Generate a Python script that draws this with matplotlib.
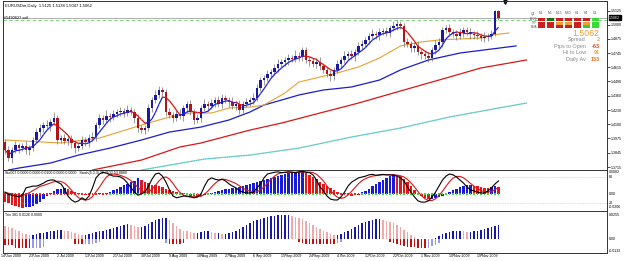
import numpy as np
import matplotlib
matplotlib.use('Agg')
import matplotlib.pyplot as plt
from matplotlib.collections import LineCollection
from matplotlib.patches import Rectangle
import pandas as pd

plt.rcParams['font.family'] = ['Liberation Sans', 'DejaVu Sans']

W, H = 625, 261

# ---------------- data ----------------
closes = [
    1.3868, 1.3796, 1.3868, 1.3914, 1.3886, 1.3905, 1.3868, 1.3886, 1.3959, 1.4031,
    1.4067, 1.4094, 1.4085, 1.4122, 1.4158, 1.3959, 1.3977, 1.3950, 1.3968, 1.3932,
    1.3886, 1.3905, 1.3959, 1.3941, 1.3977, 1.3986, 1.4094, 1.4158, 1.4140, 1.4176,
    1.4167, 1.4194, 1.4212, 1.4221, 1.4203, 1.4230, 1.4212, 1.4158, 1.4067, 1.4049,
    1.4067, 1.4248, 1.4320, 1.4366, 1.4411, 1.4393, 1.4212, 1.4185, 1.4158, 1.4194,
    1.4176, 1.4248, 1.4284, 1.4212, 1.4140, 1.4158, 1.4248, 1.4284, 1.4266, 1.4293,
    1.4320, 1.4284, 1.4339, 1.4320, 1.4302, 1.4266, 1.4284, 1.4230, 1.4284, 1.4302,
    1.4320, 1.4339, 1.4429, 1.4501, 1.4519, 1.4555, 1.4574, 1.4610, 1.4646, 1.4664,
    1.4682, 1.4700, 1.4691, 1.4718, 1.4709, 1.4772, 1.4682, 1.4673, 1.4646, 1.4664,
    1.4628, 1.4592, 1.4555, 1.4537, 1.4592, 1.4646, 1.4682, 1.4718, 1.4736, 1.4718,
    1.4754, 1.4809, 1.4827, 1.4863, 1.4899, 1.4917, 1.4908, 1.4935, 1.4944, 1.4926,
    1.4971, 1.4989, 1.5007, 1.4989, 1.4845, 1.4827, 1.4791, 1.4809, 1.4754, 1.4736,
    1.4718, 1.4700, 1.4772, 1.4818, 1.4845, 1.4953, 1.4971, 1.4935, 1.4917, 1.4899,
    1.4926, 1.4953, 1.4935, 1.4917, 1.4908, 1.4899, 1.4881, 1.4890, 1.4899, 1.4917,
    1.5125, 1.5062]
first_open = 1.3940

# wick lengths in pips
up_wick = [
    30, 40, 25, 35, 20, 30, 45, 25, 30, 40, 35, 30, 45, 25, 50, 30, 25, 40, 30, 35,
    30, 25, 40, 30, 35, 45, 30, 40, 25, 50, 30, 35, 25, 40, 30, 45, 30, 25, 35, 30,
    25, 40, 30, 45, 35, 30, 25, 40, 30, 35, 45, 30, 25, 40, 30, 35, 30, 45, 25, 40,
    30, 35, 40, 25, 30, 45, 30, 35, 25, 40, 30, 45, 35, 30, 25, 40, 30, 35, 45, 30,
    25, 40, 30, 50, 35, 30, 25, 40, 30, 35, 45, 30, 25, 40, 30, 35, 30, 45, 25, 40,
    30, 35, 40, 25, 30, 45, 30, 35, 25, 40, 30, 45, 35, 30, 25, 40, 30, 35, 45, 30,
    25, 40, 30, 45, 35, 30, 25, 40, 30, 35, 45, 30, 25, 40, 30, 35, 30, 45, 25, 40,
    10, 13]
dn_wick = [
    35, 30, 45, 25, 40, 30, 35, 45, 25, 30, 40, 35, 25, 45, 30, 40, 30, 25, 35, 45,
    40, 30, 25, 35, 45, 30, 40, 25, 35, 30, 45, 25, 30, 40, 35, 30, 25, 45, 40, 30,
    35, 25, 40, 30, 25, 45, 35, 30, 40, 25, 30, 45, 35, 25, 40, 30, 35, 25, 45, 30,
    40, 25, 35, 30, 45, 25, 40, 35, 30, 25, 35, 40, 30, 25, 45, 30, 35, 25, 40, 30,
    35, 45, 25, 30, 40, 35, 25, 45, 30, 40, 35, 30, 25, 45, 40, 30, 35, 25, 40, 30,
    45, 25, 35, 30, 40, 25, 35, 45, 30, 25, 40, 30, 35, 25, 45, 30, 40, 35, 25, 45,
    30, 40, 25, 35, 30, 45, 25, 40, 30, 35, 25, 40, 30, 45, 35, 25, 30, 40, 35, 30,
    20, 15]

# slow moving averages (bar number, price)
orange_bars = [0, 16, 27, 39, 46, 53, 59, 64, 70, 74, 80, 84, 90, 96, 101, 107, 113, 119, 124, 130, 136, 139, 144]
orange_vals = [1.3959, 1.3932, 1.3977, 1.4094, 1.4158, 1.4203, 1.4203, 1.4248, 1.4257, 1.4275, 1.4384, 1.4483,
               1.4528, 1.4574, 1.4619, 1.4700, 1.4809, 1.4845, 1.4863, 1.4872, 1.4881, 1.4908, 1.4926]
navy_bars = [1, 4, 13, 21, 30, 39, 47, 56, 64, 70, 74, 79, 84, 91, 99, 107, 113, 121, 130, 139, 146]
navy_vals = [1.3688, 1.3706, 1.3751, 1.3823, 1.3886, 1.3959, 1.4031, 1.4076, 1.4140, 1.4212, 1.4275,
             1.4320, 1.4366, 1.4411, 1.4438, 1.4501, 1.4592, 1.4682, 1.4745, 1.4781, 1.4809]
red_bars = [25, 39, 50, 56, 70, 79, 90, 101, 113, 124, 136, 149]
red_vals = [1.3688, 1.3778, 1.3896, 1.3932, 1.4049, 1.4112, 1.4203, 1.4293, 1.4402, 1.4501, 1.4610, 1.4682]
cyan_bars = [39, 57, 70, 84, 99, 113, 127, 141, 149]
cyan_vals = [1.3688, 1.3787, 1.3823, 1.3886, 1.3986, 1.4067, 1.4167, 1.4248, 1.4293]

# stochastic %K
stoch_k = [
    45, 40, 38, 36, 34, 38, 55, 57, 59, 59, 62, 66, 71, 73, 73, 68, 64, 52, 36, 27,
    22, 25, 32, 27, 36, 55, 78, 87, 91, 89, 85, 82, 82, 80, 75, 66, 55, 45, 38, 41,
    45, 59, 75, 87, 89, 82, 68, 50, 36, 32, 34, 36, 36, 34, 32, 34, 41, 59, 73, 78,
    75, 73, 75, 71, 64, 59, 55, 48, 45, 43, 43, 45, 55, 64, 78, 87, 89, 91, 92, 90,
    91, 92, 91, 90, 92, 93, 91, 90, 85, 73, 57, 48, 36, 29, 27, 27, 34, 45, 59, 68,
    73, 78, 80, 82, 85, 86, 84, 85, 86, 85, 85, 84, 82, 78, 71, 57, 45, 34, 25, 22,
    22, 25, 34, 45, 59, 73, 82, 87, 85, 80, 73, 66, 57, 50, 48, 45, 43, 43, 48, 55,
    64, 71]
# histogram of panel 1 (x 1e-4)
hist1 = [
    -30, -35, -40, -45, -50, -52, -50, -48, -45, -38, -28, -18, -8, 5, 12, 18, 20, 22, 20, 12,
    6, 2, -2, -3, -2, -1, 1, 2, 3, 4, 8, 14, 20, 26, 32, 38, 44, 50, 58, 52,
    45, 40, 35, 32, 30, 25, 20, 16, 12, 8, 4, 2, -3, -6, -8, -10, -8, -5, -3, 2,
    8, 12, 16, 18, 20, 22, 24, 26, 30, 34, 38, 40, 44, 48, 52, 56, 60, 64, 68, 72,
    75, 78, 80, 82, 82.5, 83, 80, 72, 64, 55, 46, 38, 30, 22, 14, 8, 4, 2, -4, -6,
    -4, -2, 6, 12, 20, 28, 36, 44, 52, 60, 68, 74, 72, 66, 56, 44, 30, 16, 4, -8,
    -16, -20, -18, -14, -10, -6, -2, 8, 14, 20, 26, 30, 32, 33, 30, 28, 26, 24, 24, 25,
    28, 26]
squeeze = 'R' * 30 + 'G' * 64 + 'R' * 8 + 'G' * 40
# Trix histogram (x 1e-3), upper buffer
trix = [
    14, 13, 12, 10, 8, 6, 5, 4, 4, 5, 6, 6, 7, 8, 9, 10, 10, 9, 8, 7,
    6, 5, 4, 4, 5, 6, 7, 8, 9, 10, 11, 12, 13, 14, 15, 16, 15, 14, 13, 13,
    14, 16, 18, 20, 21, 22, 22, 20, 17, 14, 11, 9, 8, 7, 6, 6, 7, 8, 8, 7,
    6, 6, 5, 5, 6, 7, 9, 11, 13, 15, 17, 19, 20, 21, 22, 23, 24, 24, 25, 25,
    25, 25, 24, 23, 22, 21, 19, 17, 15, 13, 11, 9, 7, 5, 4, 4, 5, 7, 9, 11,
    13, 15, 17, 18, 19, 20, 21, 21, 20, 19, 18, 17, 15, 13, 10, 7, 4, 2, 0, -2,
    -3, -2, -1, 1, 3, 5, 6, 7, 8, 9, 9, 8, 7, 7, 8, 9, 10, 11, 12, 13,
    14, 15]
# Trix lower buffer (x 1e-3)
trix_low = [
    -6, -6, -6, -10, -10, -10, -10, -10, -10, -10, -9, -8, 0, 0, 0, 0, 0, 0, 0, 0,
    -5, -5, -5, -5, -5, -5, -4, -3, 0, 0, 0, 0, 0, 0, 0, 0, 0, 0, 0, 0,
    0, 0, 0, 0, 0, 0, -4, -5, -5, -5, -5, -4, 0, 0, 0, 0, 0, 0, 0, 0,
    0, 0, 0, 0, 0, 0, 0, 0, 0, 0, 0, 0, 0, 0, 0, 0, 0, 0, 0, 0,
    0, 0, 0, 0, -3, -4, -5, -5, -5, -5, -5, -5, -5, -5, -5, -4, -3, 0, 0, 0,
    0, 0, 0, 0, 0, 0, 0, 0, 0, 0, -3, -4, -5, -6, -7, -8, -8, -8, -9, -10,
    -10, -9, -7, -6, -4, 0, 0, 0, 0, 0, 0, 0, 0, 0, 0, 0, 0, 0, 0, 0,
    0, 0]

date_labels = ['14 Jun 2009', '23 Jun 2009', '2 Jul 2009', '13 Jul 2009', '21 Jul 2009', '30 Jul 2009',
               '9 Aug 2009', '18 Aug 2009', '27 Aug 2009', '6 Sep 2009', '15 Sep 2009', '24 Sep 2009',
               '4 Oct 2009', '12 Oct 2009', '22 Oct 2009', '1 Nov 2009', '10 Nov 2009', '19 Nov 2009']
date_bars = [8 * k for k in range(len(date_labels))]

price_ticks = [1.5125, 1.5000, 1.4875, 1.4745, 1.4615, 1.4490, 1.4360, 1.4230, 1.4100, 1.3975, 1.3845, 1.3715]
bid = 1.5062
order_price = 1.5039
title = 'EURUSDm,Daily  1.5125 1.5138 1.5047 1.5062'
order_label = '#5490627 sell'

grid_header = ['Q4', 'M1', 'M5', 'M15', 'M30', 'H1', 'H4', 'D1']
grid_rows = ['10/20', 'TTF', 'EMA']
grid_colors = [['#cc2020', '#1f6e1f', '#cc2020', '#cc2020', '#cc2020', '#cc2020', '#33dd33'],
               ['#cc2020', '#cc2020', '#f0a030', '#f0a030', '#cc2020', '#f0a030', '#33dd33'],
               ['#cc2020', '#cc2020', '#cc2020', '#cc2020', '#cc2020', '#33cc33', '#33dd33']]
info_labels = ['Spread', 'Pips to Open', 'Hi to Low', 'Daily Av']
info_values = ['2', '-63', '91', '133']
info_colors = ['#f0a030', '#e04a20', '#f0a030', '#e07020']

# ---------------- figure ----------------
fig = plt.figure(figsize=(W / 100, H / 100), dpi=100)
fig.patch.set_facecolor('white')

def fax(left, top, right, bottom):
    return fig.add_axes([left / W, 1 - bottom / H, (right - left) / W, (bottom - top) / H])

XL = (-0.57, 172.0)
ax = fax(3, 1, 607, 170)
ax1 = fax(3, 170, 607, 211)
ax2 = fax(3, 211, 607, 253)
for a in (ax, ax1, ax2):
    a.set_xlim(*XL)
    a.set_xticks([])
    for s in a.spines.values():
        s.set_linewidth(0.7)
        s.set_color('#333333')

n = len(closes)
x = np.arange(n)
c = np.array(closes)
o = np.concatenate([[first_open], c[:-1]])
o[-1] = 1.5125
hi = np.maximum(o, c) + np.array(up_wick) * 1e-4
lo = np.minimum(o, c) - np.array(dn_wick) * 1e-4

# main panel
ax.set_ylim(1.3688, 1.5215)
ax.yaxis.tick_right()
ax.set_yticks(price_ticks)
ax.set_yticklabels(['%.4f' % p for p in price_ticks], fontsize=2.6)
ax.tick_params(axis='y', length=2, width=0.5, pad=1)

ax.vlines(x, lo, hi, color='#707070', lw=0.5, zorder=2)
bull = c >= o
ax.bar(x[bull], (c - o)[bull], bottom=o[bull], width=0.6, color='#1a1aa0', zorder=3, linewidth=0)
ax.bar(x[~bull], (o - c)[~bull], bottom=c[~bull], width=0.6, color='#b01414', zorder=3, linewidth=0)

ax.plot(cyan_bars, cyan_vals, color='#8adada', lw=1.0, zorder=1)
ax.plot(cyan_bars, cyan_vals, color='#30a8a8', lw=0.5, ls=(0, (1, 1.5)), zorder=1)
ax.plot(red_bars, red_vals, color='#d81818', lw=0.9, zorder=1)
ax.plot(navy_bars, navy_vals, color='#1c1ccc', lw=0.9, zorder=1)
ax.plot(orange_bars, orange_vals, color='#e8a030', lw=0.8, zorder=1)

fast = pd.Series(c).rolling(5, min_periods=1).mean().values
segs = [[(x[i - 1], fast[i - 1]), (x[i], fast[i])] for i in range(1, n)]
cols = ['#2020e0' if fast[i] >= fast[i - 1] else '#d81010' for i in range(1, n)]
ax.add_collection(LineCollection(segs, colors=cols, linewidths=0.9, zorder=4))

ax.axhline(bid, color='#a0a0a0', lw=0.6, zorder=0)
ax.axhline(order_price, color='#66cc66', lw=0.6, ls=(0, (4, 3)), zorder=0)
ax.text(0.003, 0.985, title, transform=ax.transAxes, fontsize=3.0, va='top', ha='left')
ax.text(-0.3, order_price + 0.0008, order_label, fontsize=2.8, va='bottom', ha='left')
ax.plot([143], [1.5205], marker='v', color='black', ms=2.5, clip_on=False)
# bid label box
ax.annotate('%.4f' % bid, xy=(1.0, bid), xycoords=('axes fraction', 'data'), xytext=(1.5, 0),
            textcoords='offset points', fontsize=2.6, color='white', va='center', ha='left',
            bbox=dict(boxstyle='square,pad=0.15', fc='black', ec='black'))

# info panel
def ftext(px, py, s, **kw):
    fig.text(px / W, 1 - py / H, s, **kw)

col_x = [541, 550, 559, 568, 577, 586, 595]
row_y = [19, 23, 26.5]
ftext(533, 13.5, grid_header[0], fontsize=2.4, color='#555555', ha='center', va='center')
for j, h in enumerate(grid_header[1:]):
    ftext(col_x[j], 13.5, h, fontsize=2.4, color='#555555', ha='center', va='center')
for r, lab in enumerate(grid_rows):
    ftext(537, row_y[r], lab, fontsize=2.2, color='#555555', ha='right', va='center')
    for j in range(7):
        fig.patches.append(Rectangle(((col_x[j] - 3.5) / W, 1 - (row_y[r] + 1.5) / H), 7 / W, 3 / H,
                                     transform=fig.transFigure, fc=grid_colors[r][j], ec='none'))
ftext(599, 33, '%.4f' % bid, fontsize=6.3, color='#f0a030', ha='right', va='center')
for k, (lab, val, vc) in enumerate(zip(info_labels, info_values, info_colors)):
    yy = 39.5 + 6.6 * k
    ftext(586, yy, lab, fontsize=4.0, color='#8a8a8a', ha='right', va='center')
    ftext(599.5, yy, val, fontsize=4.0, color=vc, ha='right', va='center', fontweight='bold')

# panel 1: histogram + stochastic
h1 = np.array(hist1) * 1e-4
ax1.set_ylim(-0.00634, 0.00895)
ax1.set_yticks([])
hcol = ['#1a1ad0' if (i > 0 and h1[i] > h1[i - 1]) else '#e01818' for i in range(n)]
hcol[0] = '#e01818'
ax1.bar(x, h1, width=0.6, color=hcol, linewidth=0, zorder=2)
dot_col = ['#ff2020' if s == 'R' else '#33dd33' for s in squeeze]
ax1.scatter(x, np.zeros(n), s=1.2, marker='s', c=dot_col, linewidths=0, zorder=3)
ax1s = ax1.twinx()
ax1s.set_ylim(1.5, 96.2)
ax1s.set_yticks([])
ax1s.set_xlim(*XL)
for s in ax1s.spines.values():
    s.set_visible(False)
ax1s.axhline(80, color='#999999', lw=0.4, ls=(0, (1, 2)))
ax1s.axhline(20, color='#999999', lw=0.4, ls=(0, (1, 2)))
k = np.array(stoch_k, dtype=float)
d = pd.Series(k).rolling(5, min_periods=1).mean().values
ax1s.plot(x, d, color='#d81818', lw=0.8, zorder=4)
ax1s.plot(x, k, color='black', lw=0.8, zorder=5)
ax1.text(0.003, 0.97, 'Sto007 0.0000 0.0000 0.0100 0.0000 0.0000   Stoch(5,3,3) 22.7532 53.8880',
         transform=ax1.transAxes, fontsize=2.6, va='top', ha='left')

# panel 2: Trix histogram
t = np.array(trix, dtype=float)
tl = np.array(trix_low, dtype=float)
ax2.set_ylim(-14.8, 29.7)
ax2.set_yticks([])
tcol = []
for i in range(n):
    rising = i > 0 and t[i] >= t[i - 1]
    if rising:
        tcol.append('#1818a8' if t[i] >= 0 else '#9a9ae6')
    else:
        tcol.append('#f0a8a8' if t[i] >= 0 else '#c01010')
lcol = ['#9a9ae6' if (i > 0 and t[i] >= t[i - 1]) else '#c01010' for i in range(n)]
ax2.bar(x, t, width=0.4, color=tcol, linewidth=0)
ax2.bar(x, tl, width=0.4, color=lcol, linewidth=0)
ax2.text(0.003, 0.96, 'Trix 381 0.0126 0.0000', transform=ax2.transAxes, fontsize=2.6, va='top', ha='left')

# right labels for sub panels
for py, s in [(172, '0.0082'), (177, '80'), (194, '0.00'), (203, '20'), (207.5, '-0.0206'),
              (215, '0.0255'), (239, '0.00'), (251, '-0.0132')]:
    ftext(609, py, s, fontsize=2.6, ha='left', va='center')

# date labels
for b, lab in zip(date_bars, date_labels):
    ax2.text(b - 1.1, -0.03, lab, transform=ax2.get_xaxis_transform(), fontsize=2.6,
             ha='left', va='top')
    ax2.plot([b, b], [0, -0.05], transform=ax2.get_xaxis_transform(), color='#333333', lw=0.4,
             clip_on=False)

fig.savefig('out.png', dpi=100)
